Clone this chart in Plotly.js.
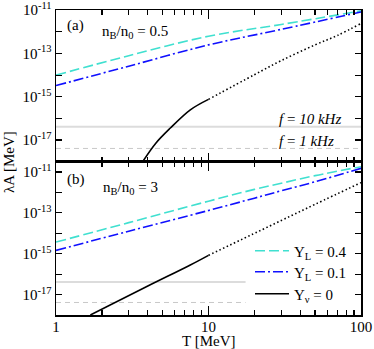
<!DOCTYPE html>
<html>
<head>
<meta charset="utf-8">
<script src="https://cdn.plot.ly/plotly-3.0.1.min.js"></script>
<style>
  body { margin: 0; padding: 0; background: #fff; }
  #chart { width: 374px; height: 349px; }
</style>
</head>
<body>
<div id="chart"></div>
<script>
// ---- data (T in MeV, lambda*A in MeV) ----

// panel (a): n_B/n_0 = 0.5
var T_a_lep = [1, 3, 10, 30, 100];
var a_YL04 = [1.0e-14, 7.9e-14, 6.3e-13, 2.2e-12, 9.3e-12];
var a_YL01 = [3.3e-15, 2.6e-14, 2.5e-13, 1.3e-12, 8.3e-12];
var T_a_nu = [3.7, 4.5, 5.6, 7.6, 10];
var a_Ynu0 = [1.0e-18, 7.0e-18, 3.5e-17, 2.5e-16, 7.6e-16];
var T_a_dot = [10, 20, 30, 50, 70, 100];
var a_Ynu0_dot = [7.6e-16, 1.05e-14, 4.7e-14, 2.5e-13, 6.8e-13, 2.45e-12];

// panel (b): n_B/n_0 = 3
var T_b_lep = [1, 3, 10, 20, 30, 50, 100];
var b_YL04 = [3.7e-15, 3.3e-14, 3.7e-13, 1.4e-12, 2.8e-12, 6.6e-12, 1.8e-11];
var b_YL01 = [1.45e-15, 1.26e-14, 1.3e-13, 5.2e-13, 1.2e-12, 3.3e-12, 1.5e-11];
var T_b_nu = [1.68, 4, 7.6, 10];
var b_Ynu0 = [1.0e-18, 2.6e-17, 2.8e-16, 8.3e-16];
var T_b_dot = [10, 30, 50, 100];
var b_Ynu0_dot = [8.3e-16, 4.2e-14, 2.6e-13, 3.0e-12];

// frequency reference levels
var f10kHz = 4.1e-17;
var f1kHz = 4.1e-18;
var T_full = [1, 100];
var T_short = [1, 17.5];

// ticks
var xMajor = [1, 10, 100];
var xMajorText = ['1', '10', '100'];
var xMinor = [2, 3, 4, 5, 6, 7, 8, 9, 20, 30, 40, 50, 60, 70, 80, 90];
var yLabeled = [1e-17, 1e-15, 1e-13, 1e-11];
var yLabeledText = ['10<sup>-17</sup>', '10<sup>-15</sup>', '10<sup>-13</sup>', '10<sup>-11</sup>'];
var yUnlabeled = [1e-18, 1e-16, 1e-14, 1e-12];

var serif = 'Liberation Serif, Times New Roman, serif';
var cyan = '#40e0d0';
var blue = '#1010ff';
var dashLong = '10px,4px';
var dashDot = '10px,3px,2px,3px';
var dotted = '1.5px,2.5px';

// pixel -> paper helpers (plot area 56..361 x 10..315)
function px(x) { return (x - 56) / 305; }
function py(y) { return (315 - y) / 305; }

function curve(x, y, yax, color, dash, name, leg) {
    return {
        x: x, y: y, xaxis: yax === 'y2' ? 'x2' : 'x', yaxis: yax,
        type: 'scatter', mode: 'lines', name: name,
        showlegend: !!leg, legend: leg || 'legend',
        line: { color: color, width: 1.6, dash: dash, shape: 'spline', smoothing: 1 },
        hoverinfo: 'skip'
    };
}

function level(x, y, yax, color, width, dash) {
    return {
        x: x, y: [y, y], xaxis: yax === 'y2' ? 'x2' : 'x', yaxis: yax,
        type: 'scatter', mode: 'lines', showlegend: false,
        line: { color: color, width: width, dash: dash },
        hoverinfo: 'skip'
    };
}

var data = [
    // reference levels
    level(T_full, f10kHz, 'y2', '#dcdcdc', 2, 'solid'),
    level(T_full, f1kHz, 'y2', '#c8c8c8', 1, '5px,4px'),
    level(T_short, f10kHz, 'y', '#dcdcdc', 2, 'solid'),
    level(T_short, f1kHz, 'y', '#c8c8c8', 1, '5px,4px'),

    // panel (a)
    curve(T_a_lep, a_YL04, 'y2', cyan, dashLong, ''),
    curve(T_a_lep, a_YL01, 'y2', blue, dashDot, ''),
    curve(T_a_nu, a_Ynu0, 'y2', '#000', 'solid', ''),
    curve(T_a_dot, a_Ynu0_dot, 'y2', '#000', dotted, ''),

    // panel (b)
    curve(T_b_lep, b_YL04, 'y', cyan, dashLong, 'Y<sub>L</sub> = 0.4', 'legend'),
    curve(T_b_lep, b_YL01, 'y', blue, dashDot, 'Y<sub>L</sub> = 0.1', 'legend2'),
    curve(T_b_nu, b_Ynu0, 'y', '#000', 'solid', 'Y<sub>ν</sub> = 0', 'legend3'),
    curve(T_b_dot, b_Ynu0_dot, 'y', '#000', dotted, '')
];

var xCommon = {
    type: 'log', range: [0, 2],
    tickvals: xMajor, ticktext: xMajorText,
    ticks: 'inside', ticklen: 9, tickwidth: 1.2, tickcolor: '#000',
    ticklabelstandoff: -3,
    minor: { tickvals: xMinor, ticks: 'inside', ticklen: 5, tickwidth: 1.2, tickcolor: '#000', showgrid: false },
    showline: true, linecolor: '#000', linewidth: 1.5, mirror: 'ticks',
    showgrid: false, zeroline: false,
    tickfont: { family: serif, size: 15, color: '#000' }
};

var yCommon = {
    type: 'log',
    tickvals: yLabeled, ticktext: yLabeledText,
    ticks: 'inside', ticklen: 6, tickwidth: 1.2, tickcolor: '#000',
    minor: { tickvals: yUnlabeled, ticks: 'inside', ticklen: 6, tickwidth: 1.2, tickcolor: '#000', showgrid: false },
    showline: true, linecolor: '#000', linewidth: 1.5, mirror: 'ticks',
    showgrid: false, zeroline: false,
    tickfont: { family: serif, size: 15, color: '#000' }
};

function legendAt(yPix) {
    return {
        x: px(250), y: py(yPix), xanchor: 'left', yanchor: 'middle',
        bgcolor: 'rgba(0,0,0,0)', borderwidth: 0, itemwidth: 34,
        font: { family: serif, size: 15, color: '#000' }
    };
}

var layout = {
    width: 374,
    height: 349,
    margin: { l: 56, r: 13, t: 10, b: 34 },
    paper_bgcolor: '#fff',
    plot_bgcolor: '#fff',
    font: { family: serif, size: 15, color: '#000' },
    xaxis: Object.assign({}, xCommon, { anchor: 'y' }),
    xaxis2: Object.assign({}, xCommon, { anchor: 'y2', matches: 'x', showticklabels: false }),
    yaxis: Object.assign({}, yCommon, { domain: [0, 0.5026], range: [-18, -10.5], anchor: 'x' }),
    yaxis2: Object.assign({}, yCommon, { domain: [0.5026, 1], range: [-18, -10.99], anchor: 'x2' }),
    showlegend: true,
    legend: legendAt(251),
    legend2: legendAt(272),
    legend3: legendAt(294),
    annotations: [
        { text: '(a)', x: px(75), y: py(25) },
        { text: 'n<sub>B</sub>/n<sub>0</sub> = 0.5', x: px(100), y: py(32), xanchor: 'left' },
        { text: '<i>f</i> = <i>10 kHz</i>', x: px(277), y: py(119), xanchor: 'left' },
        { text: '<i>f</i> = <i>1 kHz</i>', x: px(277), y: py(141), xanchor: 'left' },
        { text: '(b)', x: px(76), y: py(180) },
        { text: 'n<sub>B</sub>/n<sub>0</sub> = 3', x: px(101), y: py(188), xanchor: 'left' },
        { text: 'λA [MeV]', x: px(9), y: py(162), textangle: -90 },
        { text: 'T [MeV]', x: px(208), y: py(341) }
    ].map(function (a) {
        return Object.assign({ xref: 'paper', yref: 'paper', showarrow: false,
            xanchor: 'center', yanchor: 'middle',
            font: { family: serif, size: 15, color: '#000' } }, a);
    })
};

Plotly.newPlot('chart', data, layout, { staticPlot: true, displayModeBar: false });
</script>
</body>
</html>
